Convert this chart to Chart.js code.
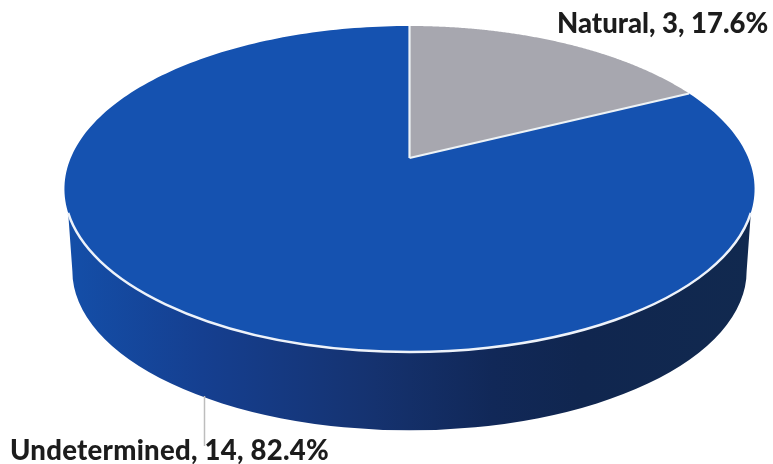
<!DOCTYPE html>
<html>
<head>
<meta charset="utf-8">
<title>Manner of death</title>
<script src="https://cdn.jsdelivr.net/npm/chart.js@4"></script>
<style>
  html, body { margin: 0; padding: 0; background: #fff; }
  canvas { display: block; }
</style>
</head>
<body>
<canvas id="myPie" width="773" height="464"></canvas>
<script>
const categories = ['Natural', 'Undetermined'];
const counts = [3, 14];
const percents = ['17.6%', '82.4%'];

const sliceColors = ['#a7a7af', '#1552b0'];
const labelFont = '900 27.5px Lato';
const labelPos = [[557, 33], [10, 460]];
const labelSpacing = ['0px', '0.27px'];

const stretchX = 2.117;   // the pie is seen from above, so it is wider than tall
const tilt = -0.19;       // perspective, moves the apex up from the ellipse centre
const wallDrop = 82;      // bottom ellipse centre below top ellipse centre
const wallShrink = 0.977; // bottom ellipse is a bit smaller
const wallStart = 0.147;  // where the side wall leaves the rim

// unit circle point -> picture, for an arc element of the chart
function project(arc, t, unit) {
  const x = unit * Math.cos(t), y = unit * Math.sin(t);
  const d = 1 + tilt * y;
  return [
    arc.x + arc.outerRadius * stretchX * x * Math.sqrt(1 - tilt * tilt) / d,
    arc.y + arc.outerRadius * (y + tilt) / d
  ];
}

function drawWall(ctx, arc) {
  const r = arc.outerRadius, a = Math.asin(wallStart);
  const grad = ctx.createLinearGradient(arc.x - r * stretchX, 0, arc.x + r * stretchX, 0);
  grad.addColorStop(0, '#144fa9');
  grad.addColorStop(0.2, '#153f90');
  grad.addColorStop(0.45, '#15326f');
  grad.addColorStop(0.62, '#112858');
  grad.addColorStop(0.75, '#10264f');
  grad.addColorStop(1, '#11294f');
  ctx.fillStyle = grad;
  ctx.beginPath();
  ctx.ellipse(arc.x, arc.y + wallDrop, r * stretchX * wallShrink, r * wallShrink, 0, Math.PI, 0, true);
  ctx.ellipse(arc.x, arc.y, r * stretchX, r, 0, a, Math.PI - a);
  ctx.closePath();
  ctx.fill();

  ctx.strokeStyle = '#eef3fa';
  ctx.lineWidth = 2.5;
  ctx.beginPath();
  ctx.ellipse(arc.x, arc.y, r * stretchX, r, 0, a, Math.PI - a);
  ctx.stroke();
}

function drawSlice(ctx, arc, color) {
  const steps = 240;
  ctx.beginPath();
  ctx.moveTo(...project(arc, 0, 0));
  for (let i = 0; i <= steps; i++) {
    const t = arc.startAngle + (arc.endAngle - arc.startAngle) * i / steps;
    ctx.lineTo(...project(arc, t, 1));
  }
  ctx.closePath();
  ctx.fillStyle = color;
  ctx.fill();
}

function drawSpoke(ctx, arc, t) {
  ctx.strokeStyle = '#eef3f6';
  ctx.lineWidth = 2.2;
  ctx.beginPath();
  ctx.moveTo(...project(arc, 0, 0));
  ctx.lineTo(...project(arc, t, 1));
  ctx.stroke();
}

const pie3d = {
  id: 'pie3d',
  beforeDatasetsDraw(chart) {
    const ctx = chart.ctx;
    const arcs = chart.getDatasetMeta(0).data;
    ctx.save();
    arcs.forEach((arc, i) => drawSlice(ctx, arc, sliceColors[i]));
    drawWall(ctx, arcs[0]);
    drawSpoke(ctx, arcs[0], arcs[0].startAngle);
    drawSpoke(ctx, arcs[0], arcs[0].endAngle);

    // leader line of the big slice
    ctx.strokeStyle = '#bdbdbd';
    ctx.lineWidth = 1.5;
    ctx.beginPath();
    ctx.moveTo(204.5, 396);
    ctx.lineTo(204.5, 446);
    ctx.stroke();

    ctx.font = labelFont;
    ctx.fillStyle = '#1c1c1c';
    ctx.textBaseline = 'alphabetic';
    categories.forEach((c, i) => {
      ctx.letterSpacing = labelSpacing[i];
      ctx.fillText(c + ', ' + counts[i] + ', ' + percents[i], labelPos[i][0], labelPos[i][1]);
    });
    ctx.restore();
    return false;
  }
};

var ctx = document.getElementById('myPie').getContext('2d');
var myPie = new Chart(ctx, {
  type: 'pie',
  data: {
    labels: categories,
    datasets: [{
      data: counts,
      backgroundColor: sliceColors,
      borderWidth: 0
    }]
  },
  options: {
    responsive: false,
    animation: false,
    events: [],
    layout: { padding: { left: 64, right: 18, top: 26, bottom: 112 } },
    plugins: {
      legend: { display: false },
      tooltip: { enabled: false }
    }
  },
  plugins: [pie3d]
});
</script>
</body>
</html>
